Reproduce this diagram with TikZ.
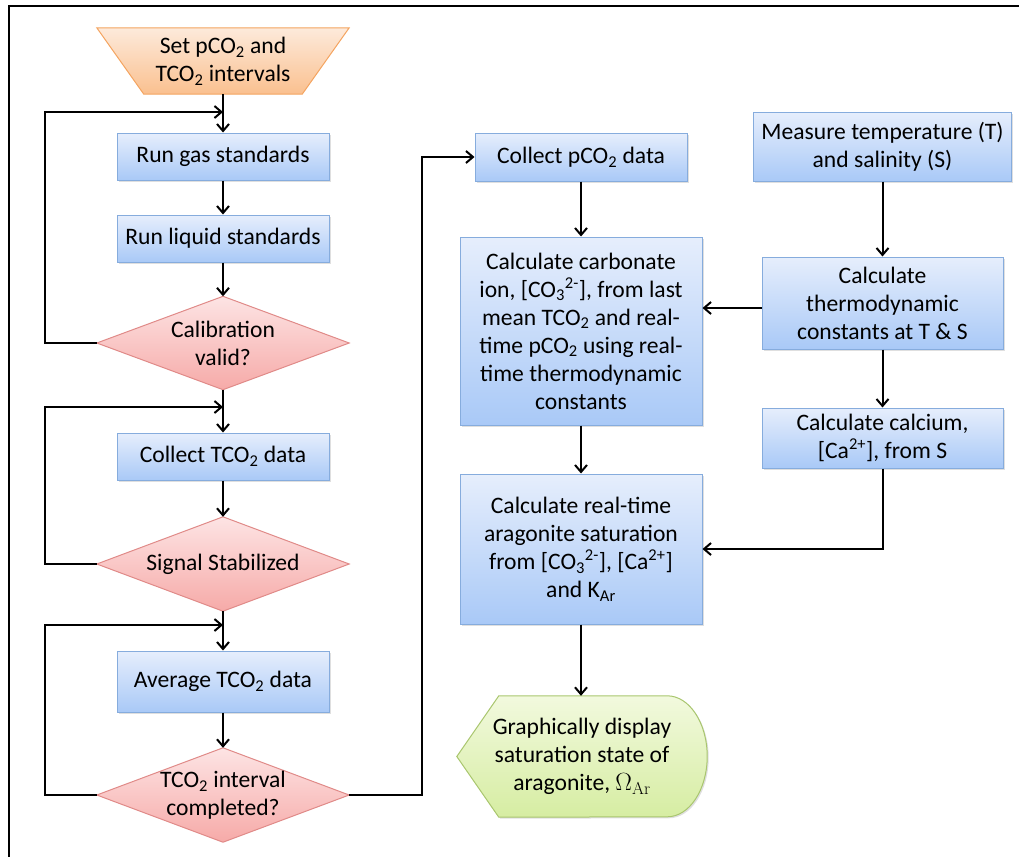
\documentclass[tikz,border=0pt]{standalone}
\usepackage[no-math]{fontspec}
\setmainfont{Carlito}
\usetikzlibrary{arrows.meta,shadows,backgrounds,calc}
\definecolor{bluetop}{HTML}{E6EEFC}
\definecolor{bluebot}{HTML}{A9C9F7}
\definecolor{blueline}{HTML}{86ACDD}
\definecolor{redtop}{HTML}{FDE4E4}
\definecolor{redbot}{HTML}{F6AAA8}
\definecolor{redline}{HTML}{E08A88}
\definecolor{ortop}{HTML}{FDEADB}
\definecolor{orbot}{HTML}{FAC08F}
\definecolor{orline}{HTML}{F4A460}
\definecolor{grtop}{HTML}{F2F9DE}
\definecolor{grbot}{HTML}{D6EDA2}
\definecolor{grline}{HTML}{A9C66E}
\begin{document}
\begin{tikzpicture}[x=1pt,y=-1pt,
  font=\fontsize{23.6}{28}\selectfont,
  box/.style={draw=blueline, line width=1pt, top color=bluetop, bottom color=bluebot,
    align=center, inner sep=0pt,
    drop shadow={shadow xshift=1.5pt, shadow yshift=-1.5pt, opacity=0.25}},
  blank/.style={align=center, inner sep=0pt},
  arr/.style={line width=2pt, -{Straight Barb[length=7pt,width=12pt]}},
  shapeline/.style={line width=1pt}
]
\useasboundingbox (0,0) rectangle (1019,857);
\draw[line width=2pt] (1019,6) -- (9,6) -- (9,857);

% left column
\node[blank, minimum width=252pt, minimum height=66pt] (start) at (223,61) {Set pCO\textsubscript{2} and\\TCO\textsubscript{2} intervals};
\node[box, minimum width=212pt, minimum height=47pt] (gas) at (223,156.5) {Run gas standards};
\node[box, minimum width=212pt, minimum height=47pt] (liq) at (223,238.5) {Run liquid standards};
\node[blank, minimum width=252pt, minimum height=93pt] (cal) at (223,343) {Calibration\\valid?};
\node[box, minimum width=212pt, minimum height=47pt] (ctco) at (223,456.5) {Collect TCO\textsubscript{2} data};
\node[blank, minimum width=252pt, minimum height=94pt] (sig) at (223,564) {Signal Stabilized};
\node[box, minimum width=212pt, minimum height=61pt] (avg) at (223,681.5) {Average TCO\textsubscript{2} data};
\node[blank, minimum width=252pt, minimum height=94pt] (tint) at (223,795) {TCO\textsubscript{2} interval\\completed?};

% middle column
\node[box, minimum width=212pt, minimum height=48pt] (cpco) at (581,157) {Collect pCO\textsubscript{2} data};
\node[box, minimum width=242pt, minimum height=188pt] (carb) at (581,331) {Calculate carbonate\\ion, {[}CO\textsubscript{3}\textsuperscript{2-}], from last\\mean TCO\textsubscript{2} and real-\\time pCO\textsubscript{2} using real-\\time thermodynamic\\constants};
\node[box, minimum width=242pt, minimum height=150pt] (arag) at (581,549) {Calculate real-time\\aragonite saturation\\from {[}CO\textsubscript{3}\textsuperscript{2-}], {[}Ca\textsuperscript{2+}]\\and K\textsubscript{Ar}};
\node[blank, minimum width=250pt, minimum height=121pt] (disp) at (582,756.5) {Graphically display\\saturation state of\\aragonite, $\Omega_{\mathrm{Ar}}$};

% right column
\node[box, minimum width=258pt, minimum height=69pt] (meas) at (882.5,146.5) {Measure temperature (T)\\and salinity (S)};
\node[box, minimum width=241pt, minimum height=92pt] (thermo) at (882.5,303) {Calculate\\thermodynamic\\constants at T \& S};
\node[box, minimum width=241pt, minimum height=60pt] (calc) at (882.5,438) {Calculate calcium,\\{[}Ca\textsuperscript{2+}], from S};

\begin{scope}[on background layer]
  \path[shapeline, draw=orline, top color=ortop, bottom color=orbot]
    (start.north west) -- (start.north east) -- ([xshift=-47pt]start.south east)
    -- ([xshift=47pt]start.south west) -- cycle;
  \foreach \n in {cal,sig,tint}
    \path[shapeline, draw=redline, top color=redtop, bottom color=redbot]
      (\n.north) -- (\n.east) -- (\n.south) -- (\n.west) -- cycle;
  \path[shapeline, draw=grline, top color=grtop, bottom color=grbot,
        drop shadow={shadow xshift=1.5pt, shadow yshift=-1.5pt, opacity=0.25}]
    (disp.west) -- ([xshift=42pt]disp.north west) -- ([xshift=-40pt]disp.north east)
    arc[start angle=90, end angle=-90, x radius=40pt, y radius=60.5pt]
    -- ([xshift=42pt]disp.south west) -- cycle;
\end{scope}

\coordinate (j1) at (223,112);
\coordinate (j2) at (223,407);
\coordinate (j3) at (223,625);

\draw[arr] (start.south) -- (gas.north);
\draw[arr] (gas) -- (liq);
\draw[arr] (liq) -- (cal);
\draw[arr] (cal.west) -- ++(-52,0) |- (j1);
\draw[arr] (cal.south) -- (ctco.north);
\draw[arr] (ctco) -- (sig);
\draw[arr] (sig.west) -- ++(-52,0) |- (j2);
\draw[arr] (sig.south) -- (avg.north);
\draw[arr] (avg) -- (tint);
\draw[arr] (tint.west) -- ++(-52,0) |- (j3);
\draw[arr] (tint.east) -- ++(73,0) |- (cpco.west);
\draw[arr] (cpco) -- (carb);
\draw[arr] (carb) -- (arag);
\draw[arr] (arag.south) -- (arag.south |- disp.north);
\draw[arr] (meas) -- (thermo);
\draw[arr] (thermo) -- (calc);
\draw[arr] ([yshift=-5pt]thermo.west) -- ([yshift=-5pt]thermo.west -| carb.east);
\draw[arr] (calc.south) |- (arag.east);
\end{tikzpicture}
\end{document}
